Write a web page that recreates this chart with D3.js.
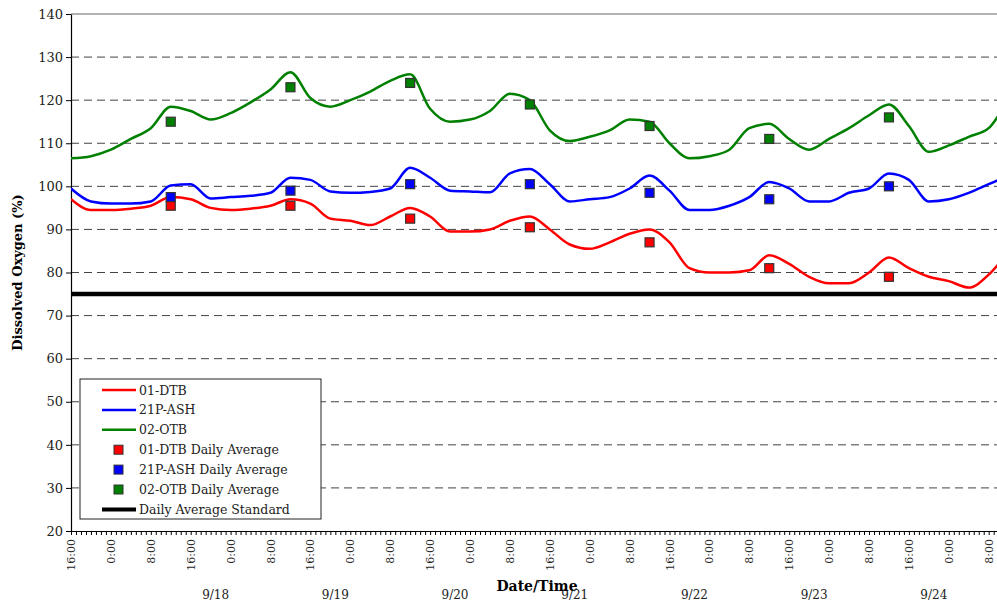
<!DOCTYPE html>
<html>
<head>
<meta charset="utf-8">
<script src="https://cdn.jsdelivr.net/npm/d3@7"></script>
<style>
  body { margin: 0; background: #fff; }
  text { font-family: "DejaVu Serif", serif; }
</style>
</head>
<body>
<div id="canvas"></div>
<script>
// readings every 4 hours from 9/17 16:00, last one at 9/25 10:00
const dtb = [97, 94.5, 94.5, 94.8, 95.5, 97.5, 97, 95, 94.5, 94.8, 95.5, 97, 96, 92.5, 92, 91, 93, 95, 93, 89.5,
  89.5, 90, 92, 93, 90, 86.5, 85.5, 87, 89, 90, 87, 81, 80, 80, 80.5, 84, 82, 79, 77.5, 77.5, 80, 83.5, 81, 79,
  78, 76.5, 79.5, 82];
const ash = [99.5, 96.5, 96, 96, 96.5, 100.2, 100.5, 97.2, 97.5, 97.8, 98.5, 102, 101.5, 98.8, 98.5, 98.7, 99.5,
  104.3, 102, 99, 98.8, 98.6, 103, 104, 100.5, 96.5, 97, 97.5, 99.5, 102.5, 99, 94.5, 94.5, 95.5, 97.5, 101, 99.5,
  96.5, 96.5, 98.5, 99.5, 103, 101.5, 96.5, 97, 98.5, 100.5, 101.5];
const otb = [106.5, 107, 108.5, 111, 113.5, 118.5, 117.5, 115.5, 117, 119.5, 122.5, 126.5, 120.5, 118.5, 120, 122,
  124.5, 126, 118, 115, 115.5, 117.5, 121.5, 120, 113, 110.5, 111.5, 113, 115.5, 115, 110, 106.5, 107, 108.5,
  113.5, 114.5, 111, 108.5, 111, 113.5, 116.5, 119, 114, 108, 109.5, 111.5, 113.5, 116.5];
const readingHours = [0, 4, 8, 12, 16, 20, 24, 28, 32, 36, 40, 44, 48, 52, 56, 60, 64, 68, 72, 76, 80, 84, 88, 92,
  96, 100, 104, 108, 112, 116, 120, 124, 128, 132, 136, 140, 144, 148, 152, 156, 160, 164, 168, 172, 176, 180, 184, 186];

const avgDays = ["2008-09-18", "2008-09-19", "2008-09-20", "2008-09-21", "2008-09-22", "2008-09-23", "2008-09-24"];
const dtbAvg = [95.5, 95.5, 92.5, 90.5, 87, 81, 79];
const ashAvg = [97.5, 99, 100.5, 100.5, 98.5, 97, 100];
const otbAvg = [115, 123, 124, 119, 114, 111, 116];
const standard = 75;
const dayLabels = ["9/18", "9/19", "9/20", "9/21", "9/22", "9/23", "9/24"];
const yTicks = [20, 30, 40, 50, 60, 70, 80, 90, 100, 110, 120, 130, 140];

const w = 997, h = 601;
const margin = { top: 14, left: 71 };
const start = new Date(2008, 8, 17, 16);
const end = new Date(2008, 8, 25, 10);
const hour = 3600 * 1000;

const x = d3.scaleTime().domain([start, end]).range([margin.left, margin.left + 186 * 4.9875]);
const y = d3.scaleLinear().domain([20, 140]).range([531, margin.top]);

const svg = d3.select("#canvas").append("svg").attr("width", w).attr("height", h);

// grid
svg.selectAll(".grid").data(yTicks.filter(v => v > 20 && v < 140)).enter().append("line")
  .attr("x1", margin.left).attr("x2", w).attr("y1", d => y(d)).attr("y2", d => y(d))
  .attr("stroke", "#444").attr("stroke-dasharray", "8,5").attr("stroke-width", 1);
svg.append("line").attr("x1", margin.left).attr("x2", w).attr("y1", y(140)).attr("y2", y(140))
  .attr("stroke", "#999").attr("stroke-width", 1.5);

// y axis
const yAxis = svg.append("g").attr("transform", `translate(${margin.left},0)`)
  .call(d3.axisLeft(y).tickValues(yTicks).tickSize(5).tickSizeOuter(0));
yAxis.select(".domain").attr("stroke-width", 1.2);
yAxis.selectAll("text").attr("font-size", 13).attr("font-family", "DejaVu Serif").attr("fill", "#222");

// x axis
const xAxis = svg.append("g").attr("transform", `translate(0,${y(20)})`)
  .call(d3.axisBottom(x).ticks(d3.timeHour.every(1)).tickSize(4).tickFormat("").tickSizeOuter(0));
xAxis.select(".domain").attr("stroke-width", 1.2);
const labelTimes = d3.timeHour.every(8).range(start, new Date(2008, 8, 25, 9));
svg.selectAll(".xl").data(labelTimes).enter().append("text")
  .attr("transform", d => `translate(${x(d) + 4},${y(20) + 8}) rotate(-90)`)
  .attr("text-anchor", "end").attr("font-size", 11).attr("fill", "#222")
  .text(d => d3.timeFormat("%-H:%M")(d));
svg.selectAll(".dl").data(dayLabels).enter().append("text")
  .attr("x", (d, i) => x(new Date(2008, 8, 18 + i, 21)))
  .attr("y", 599).attr("text-anchor", "middle").attr("font-size", 12).attr("fill", "#222").text(d => d);

svg.append("text").attr("x", 537).attr("y", 591).attr("text-anchor", "middle")
  .attr("font-size", 14).attr("font-weight", "bold").text("Date/Time");
svg.append("text").attr("transform", `translate(22,${(y(20) + y(140)) / 2}) rotate(-90)`)
  .attr("text-anchor", "middle").attr("font-size", 13).attr("font-weight", "bold").text("Dissolved Oxygen (%)");

// clip for plot area
svg.append("clipPath").attr("id", "clip").append("rect")
  .attr("x", margin.left).attr("y", 0).attr("width", w - margin.left).attr("height", h);
const plot = svg.append("g").attr("clip-path", "url(#clip)");

// standard line
plot.append("line").attr("x1", margin.left).attr("x2", w).attr("y1", y(standard)).attr("y2", y(standard))
  .attr("stroke", "#000").attr("stroke-width", 4.5);

const line = d3.line().x((d, i) => x(new Date(start.getTime() + readingHours[i] * hour))).y(d => y(d))
  .curve(d3.curveMonotoneX);
const series = [
  { name: "01-DTB", values: dtb, avg: dtbAvg, color: "#ff0000" },
  { name: "21P-ASH", values: ash, avg: ashAvg, color: "#0000ff" },
  { name: "02-OTB", values: otb, avg: otbAvg, color: "#008000" }
];
series.forEach(s => {
  plot.append("path").datum(s.values).attr("d", line).attr("fill", "none")
    .attr("stroke", s.color).attr("stroke-width", 2.5);
});
series.forEach(s => {
  plot.selectAll(null).data(s.avg).enter().append("rect")
    .attr("x", (d, i) => x(d3.timeParse("%Y-%m-%d")(avgDays[i]).getTime() + 12 * hour) - 4.5)
    .attr("y", d => y(d) - 4.5).attr("width", 9).attr("height", 9)
    .attr("fill", s.color).attr("stroke", "#333").attr("stroke-width", 1.2);
});

// legend
const lg = svg.append("g").attr("transform", "translate(80,379)");
lg.append("rect").attr("width", 241).attr("height", 140).attr("fill", "#fff").attr("stroke", "#222");
const items = [
  ["line", "#ff0000", "01-DTB"], ["line", "#0000ff", "21P-ASH"], ["line", "#008000", "02-OTB"],
  ["sq", "#ff0000", "01-DTB Daily Average"], ["sq", "#0000ff", "21P-ASH Daily Average"],
  ["sq", "#008000", "02-OTB Daily Average"], ["std", "#000", "Daily Average Standard"]
];
items.forEach((it, i) => {
  const cy = 11 + i * 19.9;
  if (it[0] === "sq") {
    lg.append("rect").attr("x", 34).attr("y", cy - 4.5).attr("width", 9).attr("height", 9)
      .attr("fill", it[1]).attr("stroke", "#333");
  } else {
    lg.append("line").attr("x1", 22).attr("x2", 56).attr("y1", cy).attr("y2", cy)
      .attr("stroke", it[1]).attr("stroke-width", it[0] === "std" ? 4 : 2.5);
  }
  lg.append("text").attr("x", 59).attr("y", cy + 4.5).attr("font-size", 12.5).attr("fill", "#222").text(it[2]);
});
</script>
</body>
</html>
